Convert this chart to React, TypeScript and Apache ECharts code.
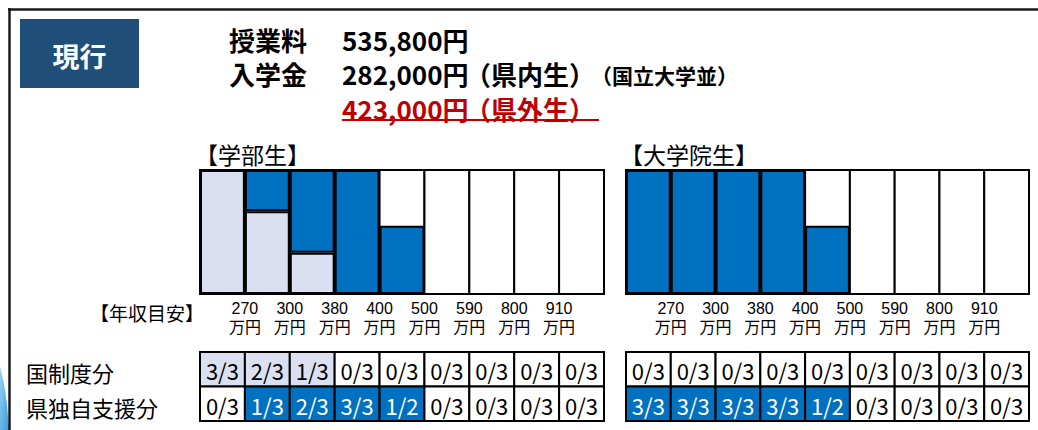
import React, { useEffect, useRef } from "react";
import * as echarts from "echarts";

// ---- data ----
const columns = ["〜270", "270-300", "300-380", "380-400", "400-500", "500-590", "590-800", "800-910", "910〜"];
const incomeTicks = ["270", "300", "380", "400", "500", "590", "800", "910"];

// 学部生 (undergraduate)
const ugNational = [1, 0.667, 0.333, 0, 0, 0, 0, 0, 0];
const ugPrefecture = [0, 0.333, 0.667, 1, 0.55, 0, 0, 0, 0];
const ugNationalText = ["3/3", "2/3", "1/3", "0/3", "0/3", "0/3", "0/3", "0/3", "0/3"];
const ugPrefectureText = ["0/3", "1/3", "2/3", "3/3", "1/2", "0/3", "0/3", "0/3", "0/3"];

// 大学院生 (graduate)
const grNational = [0, 0, 0, 0, 0, 0, 0, 0, 0];
const grPrefecture = [1, 1, 1, 1, 0.55, 0, 0, 0, 0];
const grNationalText = ["0/3", "0/3", "0/3", "0/3", "0/3", "0/3", "0/3", "0/3", "0/3"];
const grPrefectureText = ["3/3", "3/3", "3/3", "3/3", "1/2", "0/3", "0/3", "0/3", "0/3"];

const rowLabels = ["国制度分", "県独自支援分"];

// ---- styles ----
const FONT = '"Noto Sans CJK JP", "Noto Sans", sans-serif';
const LABEL_FONT = '"Liberation Sans", "Noto Sans CJK JP", sans-serif';
const BLUE = "#0070C0";
const LIGHT = "#DAE0F2";
const NAVY = "#1F4E79";
const RED = "#C00000";

const nz = (arr: number[]) => arr.map((v) => (v ? v : null));

function barSeries(idx: number, nat: number[], pref: number[]) {
  const common = {
    type: "bar",
    xAxisIndex: idx,
    yAxisIndex: idx,
    stack: "s" + idx,
    barWidth: "100%",
    barCategoryGap: "0%",
    silent: true,
  };
  return [
    {
      ...common,
      name: "国制度分",
      data: nz(nat),
      showBackground: true,
      backgroundStyle: { color: "#fff", borderColor: "#000", borderWidth: 2 },
      itemStyle: { color: LIGHT, borderColor: "#000", borderWidth: 2 },
      z: 2,
    },
    {
      ...common,
      name: "県独自支援分",
      data: nz(pref),
      itemStyle: { color: BLUE, borderColor: "#000", borderWidth: 2 },
      z: 3,
    },
  ];
}

function tableSeries(idx: number, natText: string[], prefText: string[]) {
  const rows = [natText, prefText];
  const cells: number[][] = [];
  rows.forEach((row, r) => row.forEach((_, c) => cells.push([c, r])));
  return {
    type: "custom",
    xAxisIndex: 4 + idx,
    yAxisIndex: 2 + idx,
    silent: true,
    data: cells,
    renderItem: (params: any, api: any) => {
      const c = api.value(0);
      const r = api.value(1);
      const p0 = api.coord([c, r]);
      const p1 = api.coord([c + 1, r + 1]);
      const text = rows[r][c];
      const active = !text.startsWith("0/");
      const fill = active ? (r === 0 ? LIGHT : BLUE) : "#fff";
      const textFill = active && r === 1 ? "#fff" : "#000";
      return {
        type: "group",
        children: [
          {
            type: "rect",
            shape: { x: p0[0], y: p0[1], width: p1[0] - p0[0], height: p1[1] - p0[1] },
            style: { fill, stroke: "#000", lineWidth: 2 },
          },
          {
            type: "text",
            style: {
              text,
              x: (p0[0] + p1[0]) / 2,
              y: (p0[1] + p1[1]) / 2 + 1,
              align: "center",
              verticalAlign: "middle",
              textAlign: "center",
              textVerticalAlign: "middle",
              fill: textFill,
              font: `22px ${FONT}`,
            },
          },
        ],
      };
    },
  };
}

function incomeAxis(gridIndex: number) {
  return {
    type: "value",
    gridIndex,
    min: 0,
    max: 9,
    interval: 1,
    position: "bottom",
    axisLine: { show: false },
    axisTick: { show: false },
    splitLine: { show: false },
    axisLabel: {
      show: true,
      margin: 5,
      fontSize: 16,
      lineHeight: 19,
      fontFamily: LABEL_FONT,
      color: "#000",
      showMinLabel: true,
      showMaxLabel: true,
      formatter: (v: number) => (v >= 1 && v <= incomeTicks.length ? `${incomeTicks[v - 1]}\n万円` : ""),
    },
  };
}

function txt(text: string, x: number, y: number, size: number, opts: any = {}) {
  return {
    type: "text",
    x,
    y,
    silent: true,
    style: {
      text,
      font: `${opts.bold ? "bold " : ""}${size}px ${FONT}`,
      fill: opts.color || "#000",
      textAlign: opts.align || "left",
      textVerticalAlign: "middle",
      align: opts.align || "left",
      verticalAlign: "middle",
    },
    z: 10,
  };
}

export default function App() {
  const ref = useRef<HTMLDivElement>(null);

  useEffect(() => {
    if (!ref.current) return;
    const chart = echarts.init(ref.current, undefined, { renderer: "svg" });
    const option: any = {
      animation: false,
      backgroundColor: "#fff",
      grid: [
        { left: 200, top: 170, width: 404, height: 124 },
        { left: 626, top: 170, width: 403, height: 124 },
        { left: 200, top: 352, width: 404, height: 69 },
        { left: 626, top: 352, width: 403, height: 69 },
      ],
      xAxis: [
        { type: "category", gridIndex: 0, data: columns, show: false },
        { type: "category", gridIndex: 1, data: columns, show: false },
        incomeAxis(0),
        incomeAxis(1),
        { type: "value", gridIndex: 2, min: 0, max: 9, show: false },
        { type: "value", gridIndex: 3, min: 0, max: 9, show: false },
      ],
      yAxis: [
        { type: "value", gridIndex: 0, min: 0, max: 1, show: false },
        { type: "value", gridIndex: 1, min: 0, max: 1, show: false },
        { type: "value", gridIndex: 2, min: 0, max: 2, inverse: true, show: false },
        { type: "value", gridIndex: 3, min: 0, max: 2, inverse: true, show: false },
      ],
      series: [
        ...barSeries(0, ugNational, ugPrefecture),
        ...barSeries(1, grNational, grPrefecture),
        tableSeries(0, ugNationalText, ugPrefectureText),
        tableSeries(1, grNationalText, grPrefectureText),
      ],
      graphic: [
        {
          type: "polygon",
          silent: true,
          shape: { points: [[0, 366], [4, 384], [7, 404], [9, 430], [0, 430]] },
          style: {
            fill: new echarts.graphic.LinearGradient(0, 0, 1, 1, [
              { offset: 0, color: "#9AD4F2" },
              { offset: 1, color: "#3A9BDB" },
            ]),
          },
        },
        { type: "line", silent: true, shape: { x1: 8, y1: 9.5, x2: 1038, y2: 9.5 }, style: { stroke: "#1a1a1a", lineWidth: 2.5 } },
        { type: "line", silent: true, shape: { x1: 9.5, y1: 8, x2: 9.5, y2: 430 }, style: { stroke: "#1a1a1a", lineWidth: 2.5 } },
        { type: "rect", silent: true, shape: { x: 20, y: 19, width: 119, height: 69 }, style: { fill: NAVY } },
        txt("現行", 79.5, 55, 27, { bold: true, color: "#fff", align: "center" }),
        txt("授業料", 229, 39, 26, { bold: true }),
        txt("535,800円", 342, 39, 26, { bold: true }),
        txt("入学金", 229, 73, 26, { bold: true }),
        txt("282,000円", 342, 73, 26, { bold: true }),
        txt("（県内生）", 465, 73, 26, { bold: true }),
        txt("（国立大学並）", 591, 75, 21, { bold: true }),
        txt("423,000円", 342, 108, 26, { bold: true, color: RED }),
        txt("（県外生）", 465, 108, 26, { bold: true, color: RED }),
        { type: "line", silent: true, shape: { x1: 342, y1: 120, x2: 599, y2: 120 }, style: { stroke: RED, lineWidth: 2 } },
        txt("【学部生】", 195, 154, 23),
        txt("【大学院生】", 620, 154, 23),
        txt("【年収目安】", 90, 312, 19),
        txt(rowLabels[0], 26, 372, 22),
        txt(rowLabels[1], 26, 407, 22),
      ],
    };
    chart.setOption(option);
    return () => chart.dispose();
  }, []);

  return (
    <div
      ref={ref}
      style={{ position: "absolute", left: 0, top: 0, width: 1038, height: 430, background: "#fff" }}
    />
  );
}
